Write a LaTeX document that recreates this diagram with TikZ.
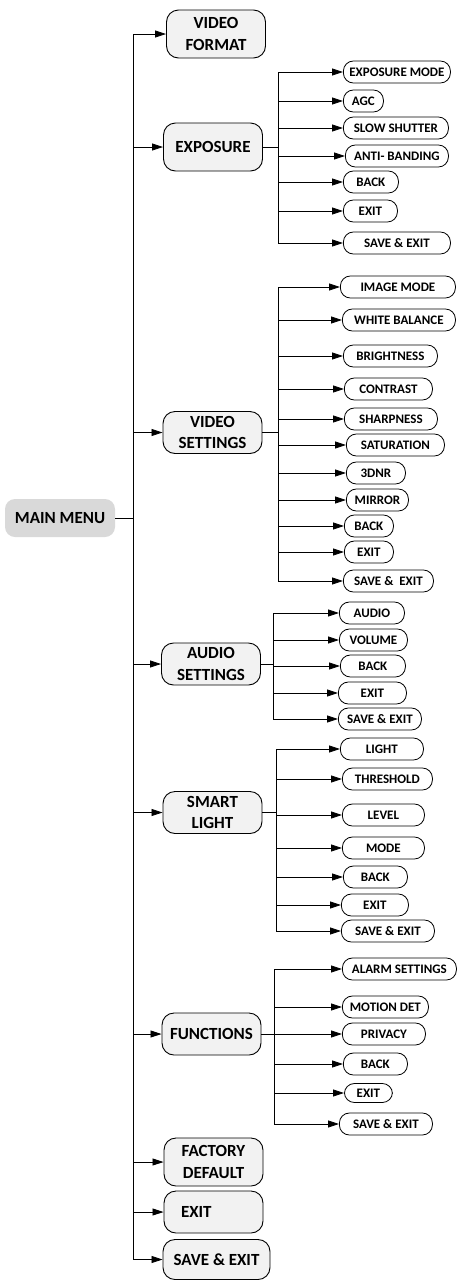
\documentclass[tikz,border=0pt]{standalone}
\usepackage{fontspec}
\setmainfont{Carlito}
\usetikzlibrary{arrows.meta}

\definecolor{menugray}{RGB}{217,217,217}
\definecolor{boxgray}{RGB}{242,242,242}

\begin{document}
\begin{tikzpicture}[x=1pt, y=-1pt,
	menu/.style={fill=menugray, rounded corners=10pt, minimum width=110pt, minimum height=38pt, font=\fontsize{17}{21}\selectfont\bfseries},
	mainbox/.style={draw, line width=0.9pt, fill=boxgray, rounded corners=12pt, minimum width=99pt, minimum height=42pt, align=center, font=\fontsize{17}{21.5}\selectfont\bfseries},
	subbox/.style={draw, line width=0.8pt, fill=white, rounded corners=10pt, anchor=west, minimum height=22pt, inner xsep=4pt, inner ysep=1pt, font=\fontsize{13}{15}\selectfont\bfseries},
	arr/.style={line width=0.8pt, -{Triangle[length=11pt,width=7pt]}},
	ln/.style={line width=0.8pt}]
		\useasboundingbox (0,0) rectangle (457,1280);
		%\draw[gray,step=50] (0,0) grid (457,1280);
		\coordinate (trunk) at (133,0);
		\coordinate (ebus) at (278,0);
		\coordinate (vbus) at (278,0);
		\coordinate (abus) at (273,0);
		\coordinate (lbus) at (276,0);
		\coordinate (fbus) at (274,0);

		% main menu
		\node[menu] (mm) at (60,518) {MAIN MENU};
		\node[mainbox, minimum height=48pt] (vf) at (216,34) {VIDEO\\FORMAT};
		\node[mainbox, minimum height=48pt] (exp) at (213,147) {EXPOSURE};
		\node[mainbox] (vset) at (212.5,432.5) {VIDEO\\SETTINGS};
		\node[mainbox] (aset) at (211,664) {AUDIO\\SETTINGS};
		\node[mainbox] (sl) at (212.5,812.5) {SMART\\LIGHT};
		\node[mainbox] (fn) at (211.5,1034) {FUNCTIONS};
		\node[mainbox, minimum height=48pt] (fd) at (213.5,1162) {FACTORY\\DEFAULT};
		\node[mainbox, text width=65pt, inner xsep=17pt, align=left] (mex) at (213.5,1212) {EXIT};
		\node[mainbox, minimum width=107pt, minimum height=40pt] (mse) at (216.5,1259.5) {SAVE \& EXIT};

		\draw[ln] (mm.east) -- (trunk |- mm.east);
		\draw[ln] (trunk |- vf.west) -- (trunk |- mse.west);
		\draw[arr] (trunk |- vf.west) -- (vf.west);
		\draw[arr] (trunk |- exp.west) -- (exp.west);
		\draw[arr] (trunk |- vset.west) -- (vset.west);
		\draw[arr] (trunk |- aset.west) -- (aset.west);
		\draw[arr] (trunk |- sl.west) -- (sl.west);
		\draw[arr] (trunk |- fn.west) -- (fn.west);
		\draw[arr] (trunk |- fd.west) -- (fd.west);
		\draw[arr] (trunk |- mex.west) -- (mex.west);
		\draw[arr] (trunk |- mse.west) -- (mse.west);

		% exposure
		\node[subbox, minimum width=107pt] (emode) at (343,72) {EXPOSURE MODE};
		\node[subbox, minimum width=40pt] (agc) at (343,101) {AGC};
		\node[subbox, minimum width=105pt] (slow) at (343,128) {SLOW SHUTTER};
		\node[subbox, minimum width=103pt] (anti) at (345,156) {ANTI- BANDING};
		\node[subbox, minimum width=55pt] (eback) at (343,182) {BACK};
		\node[subbox, minimum width=54pt] (eexit) at (343,211) {EXIT};
		\node[subbox, minimum width=107pt] (esave) at (343,243) {SAVE \& EXIT};
		\draw[ln] (exp.east) -- (ebus |- exp.east);
		\draw[ln] (ebus |- emode.west) -- (ebus |- esave.west);
		\draw[arr] (ebus |- emode.west) -- (emode.west);
		\draw[arr] (ebus |- agc.west) -- (agc.west);
		\draw[arr] (ebus |- slow.west) -- (slow.west);
		\draw[arr] (ebus |- anti.west) -- (anti.west);
		\draw[arr] (ebus |- eback.west) -- (eback.west);
		\draw[arr] (ebus |- eexit.west) -- (eexit.west);
		\draw[arr] (ebus |- esave.west) -- (esave.west);

		% video settings
		\node[subbox, minimum width=115pt] (imode) at (340,287) {IMAGE MODE};
		\node[subbox, minimum width=113pt] (wbal) at (342,320) {WHITE BALANCE};
		\node[subbox, minimum width=94pt] (bright) at (343,356) {BRIGHTNESS};
		\node[subbox, minimum width=88pt] (contr) at (344,389) {CONTRAST};
		\node[subbox, minimum width=93pt] (sharp) at (344,419) {SHARPNESS};
		\node[subbox, minimum width=98pt] (satur) at (346,445) {SATURATION};
		\node[subbox, minimum width=59pt] (dnr) at (346,473) {3DNR};
		\node[subbox, minimum width=62pt] (mirr) at (346,500) {MIRROR};
		\node[subbox, minimum width=49pt] (vback) at (344,526) {BACK};
		\node[subbox, minimum width=49pt] (vexit) at (344,552) {EXIT};
		\node[subbox, minimum width=90pt] (vsave) at (343,581) {SAVE \&~~EXIT};
		\draw[ln] (vset.east) -- (vbus |- vset.east);
		\draw[ln] (vbus |- imode.west) -- (vbus |- vsave.west);
		\draw[arr] (vbus |- imode.west) -- (imode.west);
		\draw[arr] (vbus |- wbal.west) -- (wbal.west);
		\draw[arr] (vbus |- bright.west) -- (bright.west);
		\draw[arr] (vbus |- contr.west) -- (contr.west);
		\draw[arr] (vbus |- sharp.west) -- (sharp.west);
		\draw[arr] (vbus |- satur.west) -- (satur.west);
		\draw[arr] (vbus |- dnr.west) -- (dnr.west);
		\draw[arr] (vbus |- mirr.west) -- (mirr.west);
		\draw[arr] (vbus |- vback.west) -- (vback.west);
		\draw[arr] (vbus |- vexit.west) -- (vexit.west);
		\draw[arr] (vbus |- vsave.west) -- (vsave.west);

		% audio settings
		\node[subbox, minimum width=65pt] (audio) at (339,613) {AUDIO};
		\node[subbox, minimum width=68pt] (vol) at (339,640) {VOLUME};
		\node[subbox, minimum width=65pt] (aback) at (340,666) {BACK};
		\node[subbox, minimum width=68pt] (aexit) at (338,693) {EXIT};
		\node[subbox, minimum width=83pt] (asave) at (338,719) {SAVE \& EXIT};
		\draw[ln] (aset.east) -- (abus |- aset.east);
		\draw[ln] (abus |- audio.west) -- (abus |- asave.west);
		\draw[arr] (abus |- audio.west) -- (audio.west);
		\draw[arr] (abus |- vol.west) -- (vol.west);
		\draw[arr] (abus |- aback.west) -- (aback.west);
		\draw[arr] (abus |- aexit.west) -- (aexit.west);
		\draw[arr] (abus |- asave.west) -- (asave.west);

		% smart light
		\node[subbox, minimum width=83pt] (light) at (340,749) {LIGHT};
		\node[subbox, minimum width=90pt] (thres) at (342,779) {THRESHOLD};
		\node[subbox, minimum width=82pt] (level) at (342,815) {LEVEL};
		\node[subbox, minimum width=82pt] (lmode) at (342,848) {MODE};
		\node[subbox, minimum width=64pt] (lback) at (343,877) {BACK};
		\node[subbox, minimum width=67pt] (lexit) at (341,905) {EXIT};
		\node[subbox, minimum width=93pt] (lsave) at (341,931) {SAVE \& EXIT};
		\draw[ln] (sl.east) -- (lbus |- sl.east);
		\draw[ln] (lbus |- light.west) -- (lbus |- lsave.west);
		\draw[arr] (lbus |- light.west) -- (light.west);
		\draw[arr] (lbus |- thres.west) -- (thres.west);
		\draw[arr] (lbus |- level.west) -- (level.west);
		\draw[arr] (lbus |- lmode.west) -- (lmode.west);
		\draw[arr] (lbus |- lback.west) -- (lback.west);
		\draw[arr] (lbus |- lexit.west) -- (lexit.west);
		\draw[arr] (lbus |- lsave.west) -- (lsave.west);

		% functions
		\node[subbox, minimum width=114pt] (alarm) at (342,969) {ALARM SETTINGS};
		\node[subbox, minimum width=86pt] (motion) at (342,1007) {MOTION DET};
		\node[subbox, minimum width=83pt] (priv) at (342,1034) {PRIVACY};
		\node[subbox, minimum width=64pt] (fback) at (343,1064) {BACK};
		\node[subbox, minimum width=48pt, minimum height=19pt] (fexit) at (344,1093) {EXIT};
		\node[subbox, minimum width=93pt] (fsave) at (339,1124) {SAVE \& EXIT};
		\draw[ln] (fn.east) -- (fbus |- fn.east);
		\draw[ln] (fbus |- alarm.west) -- (fbus |- fsave.west);
		\draw[arr] (fbus |- alarm.west) -- (alarm.west);
		\draw[arr] (fbus |- motion.west) -- (motion.west);
		\draw[arr] (fbus |- priv.west) -- (priv.west);
		\draw[arr] (fbus |- fback.west) -- (fback.west);
		\draw[arr] (fbus |- fexit.west) -- (fexit.west);
		\draw[arr] (fbus |- fsave.west) -- (fsave.west);
	\end{tikzpicture}
\end{document}
